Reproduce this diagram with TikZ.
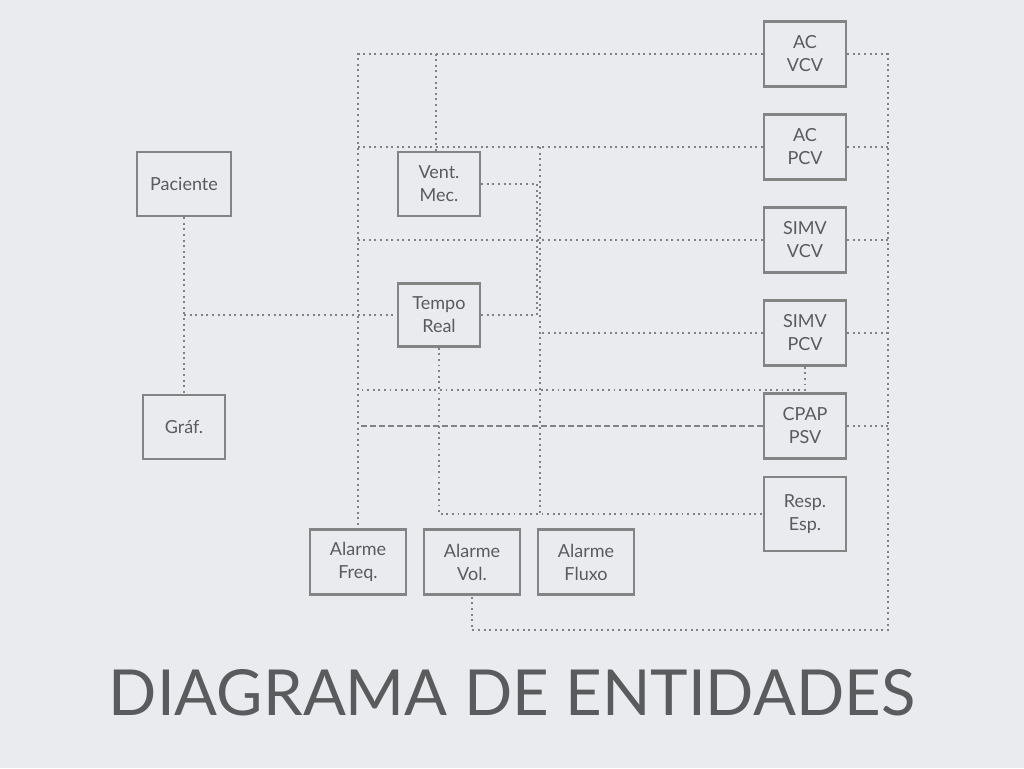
\documentclass[tikz,border=0pt]{standalone}
\usepackage{fontspec}
\setmainfont{Lato}
\definecolor{bg}{HTML}{E9EBEE}
\definecolor{boxc}{HTML}{838585}
\definecolor{linec}{HTML}{808284}
\definecolor{txt}{HTML}{5A5B5D}
\begin{document}
\begin{tikzpicture}[x=1pt,y=-1pt,
  box/.style={draw=boxc, line width=2.5pt, fill=bg, minimum width=82pt, minimum height=65pt,
    align=center, font=\fontsize{18}{23}\selectfont, text=txt, inner sep=0pt},
  link/.style={draw=linec, line width=1.9pt, dash pattern=on 1.9pt off 3.7pt},
  dlink/.style={draw=linec, line width=1.9pt, dash pattern=on 6pt off 3pt},
  title/.style={font=\fontsize{63.5}{72}\selectfont, text=txt, inner sep=0pt}]
\fill[bg] (0,0) rectangle (1024,768);
\useasboundingbox (0,0) rectangle (1024,768);

% nodes
\node[box] (acvcv)   at (805,54)  {AC\\VCV};
\node[box] (acpcv)   at (805,147) {AC\\PCV};
\node[box] (simvvcv) at (805,240) {SIMV\\VCV};
\node[box] (simvpcv) at (805,333) {SIMV\\PCV};
\node[box] (cpap)    at (805,426) {CPAP\\PSV};
\node[box, minimum height=74pt] (resp) at (805,514) {Resp.\\Esp.};
\node[box, minimum height=64pt] (vent)  at (439,184) {Vent.\\Mec.};
\node[box, minimum height=63pt] (tempo) at (439,315) {Tempo\\Real};
\node[box, minimum width=94pt, minimum height=64pt] (pac)  at (184,184) {Paciente};
\node[box, minimum height=64pt] (graf) at (184,427) {Gráf.};
\node[box, minimum width=96pt] (afreq) at (358,562) {Alarme\\Freq.};
\node[box, minimum width=96pt] (avol)  at (472,562) {Alarme\\Vol.};
\node[box, minimum width=96pt] (aflux) at (586,562) {Alarme\\Fluxo};
\node[title] (title) at (512,693) {DIAGRAMA DE ENTIDADES};

% junction coordinates
\coordinate (rx) at (888,630);
\coordinate (mx) at (540,0);
\coordinate (nx) at (537,0);
\coordinate (j390) at (358,390);
\coordinate (vx) at (436,0);

% connectors
\draw[link] (acvcv.west) -| (afreq.north);
\draw[link] (acvcv.east) -| (rx) -| (avol.south);
\draw[link] (vx |- vent.north) -- (vx |- acvcv.west);
\draw[link] (acpcv.west) -- (acpcv.west -| afreq.north);
\draw[link] (acpcv.east) -- (acpcv.east -| rx);
\draw[link] (simvvcv.west) -- (simvvcv.west -| afreq.north);
\draw[link] (simvvcv.east) -- (simvvcv.east -| rx);
\draw[link] (simvpcv.west) -- (simvpcv.west -| mx);
\draw[link] (simvpcv.east) -- (simvpcv.east -| rx);
\draw[link] (simvpcv.south) |- (j390);
\draw[dlink] (cpap.west) -- (cpap.west -| afreq.north);
\draw[link] (cpap.east) -- (cpap.east -| rx);
\draw[link] (mx |- acpcv.west) -- (mx |- resp.west);
\draw[link] (tempo.south) |- (resp.west);
\draw[link] (vent.east) -| (nx |- tempo.east) -- (tempo.east);
\draw[link] (pac.south) -- (graf.north);
\draw[link] (pac.south |- tempo.west) -- (tempo.west);
\end{tikzpicture}
\end{document}
